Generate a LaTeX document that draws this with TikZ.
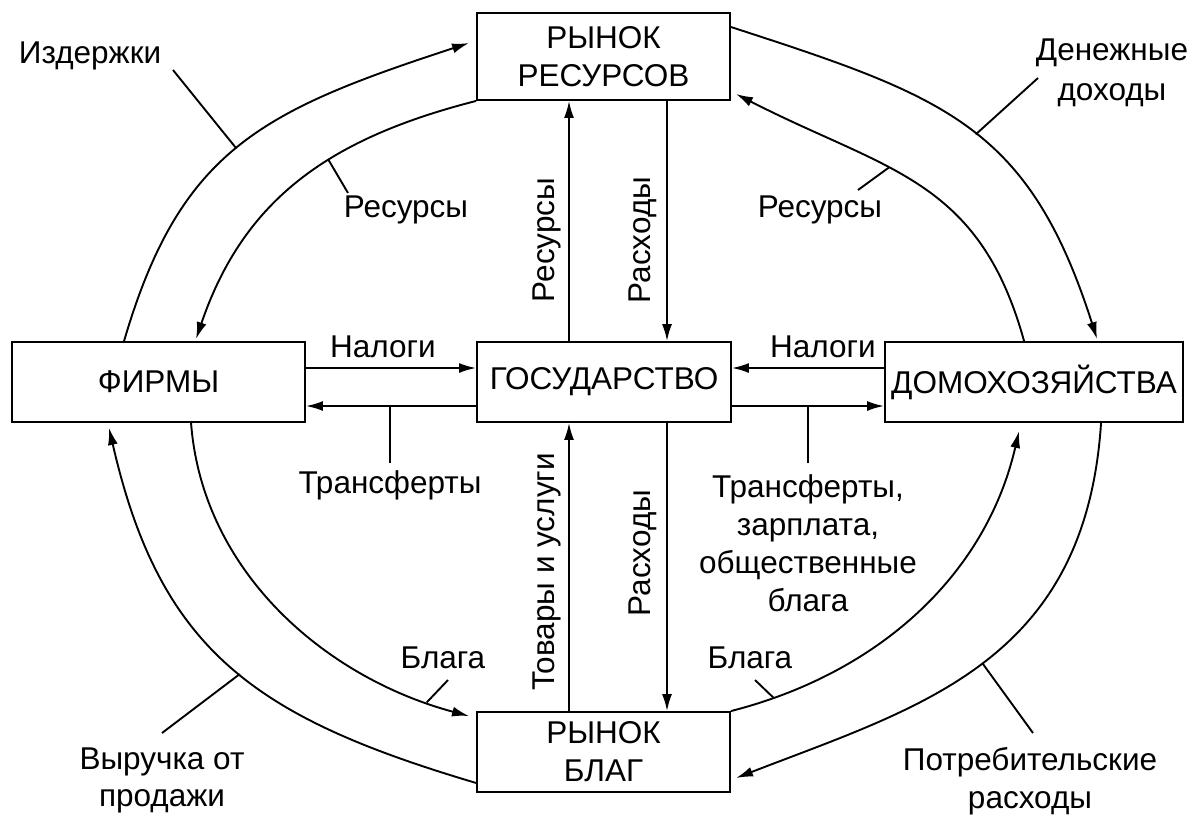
\documentclass[tikz,border=0pt]{standalone}
\usepackage{fontspec}
\setmainfont{Liberation Sans}
\usetikzlibrary{arrows.meta,calc}
\begin{document}
\begin{tikzpicture}[x=1pt,y=-1pt,
  every node/.style={font=\fontsize{31.5}{38}\selectfont, inner sep=0pt},
  box/.style={draw, line width=1.9pt, minimum height=80pt, align=center},
  flow/.style={line width=1.9pt, -{Latex[length=17pt,width=10pt]}},
  lead/.style={line width=1.9pt},
  lbl/.style={align=center}]
\useasboundingbox (0,0) rectangle (1196,815);
\fill[white] (0,0) rectangle (1196,815);

% boxes
\node[box, minimum width=253pt, minimum height=87pt] (rr) at (603.5,56.5) {РЫНОК\\РЕСУРСОВ};
\node[box, minimum width=293pt] (firms) at (158.5,382) {ФИРМЫ};
\node[box, minimum width=254pt] (state) at (604,382) {ГОСУДАРСТВО};
\node[box, minimum width=298pt] (house) at (1034,382) {ДОМОХОЗЯЙСТВА};
\node[box, minimum width=253pt] (rb) at (603.5,752) {РЫНОК\\БЛАГ};

% helper coordinates
\coordinate (vL) at (569,0);
\coordinate (vR) at (667,0);
\coordinate (hT) at (0,368);
\coordinate (hB) at (0,406);

% straight flows
\draw[flow] (state.north -| vL) -- (rr.south -| vL);
\draw[flow] (rr.south -| vR) -- (state.north -| vR);
\draw[flow] (rb.north -| vL) -- (state.south -| vL);
\draw[flow] (state.south -| vR) -- (rb.north -| vR);
\draw[flow] (firms.east |- hT) -- (state.west |- hT);
\draw[flow] (state.west |- hB) -- (firms.east |- hB);
\draw[flow] (house.west |- hT) -- (state.east |- hT);
\draw[flow] (state.east |- hB) -- (house.west |- hB);

% curved flows
\draw[flow] ($(firms.north west)+(113,0)$) .. controls (180,150) and (261,111) .. ($(rr.west)+(-7,-13.5)$) coordinate[pos=0.49] (tIzd);
\draw[flow] (rr.south west) .. controls (331,138) and (244,198) .. ($(firms.north west)+(185,-2)$) coordinate[pos=0.4] (tResL);
\draw[flow] ($(rr.east)+(0,-29.5)$) .. controls (945.75,96.75) and (1029,125.8) .. ($(house.north west)+(213,-2)$) coordinate[pos=0.52] (tDen);
\draw[flow] ($(house.north west)+(140,0)$) .. controls (979,178) and (886,171) .. ($(rr.south east)+(5,-7)$) coordinate[pos=0.6] (tResR);
\draw[flow] ($(rb.south west)+(0,-10)$) .. controls (256,717.6) and (160,651.5) .. ($(firms.south west)+(98,5)$) coordinate[pos=0.47] (tVyr);
\draw[flow] ($(firms.south west)+(180,0)$) .. controls (202.35,571.7) and (325.25,677.55) .. ($(rb.north west)+(-7,5)$) coordinate[pos=0.9] (tBlL);
\draw[flow] (rb.north east) .. controls (877.75,673.55) and (985.65,576.05) .. ($(house.south west)+(135,8)$) coordinate[pos=0.1] (tBlR);
\draw[flow] ($(house.south west)+(217,0)$) .. controls (1085.4,661.5) and (921.6,706.2) .. ($(rb.east)+(5,26)$) coordinate[pos=0.5] (tPot);

% leader end points
\coordinate (eIzd) at (173,70);
\coordinate (eResL) at (348,193);
\coordinate (eDen) at (1038,78);
\coordinate (eResR) at (858,190);
\coordinate (eVyr) at (162,733);
\coordinate (eBlL) at (448,680);
\coordinate (eBlR) at (755,680);
\coordinate (ePot) at (1033,733);
\coordinate (eTrL) at (390,463);
\coordinate (eTrR) at (808,463);

% leaders
\draw[lead] (tIzd) -- (eIzd);
\draw[lead] (tResL) -- (eResL);
\draw[lead] (tDen) -- (eDen);
\draw[lead] (tResR) -- (eResR);
\draw[lead] (tVyr) -- (eVyr);
\draw[lead] (tBlL) -- (eBlL);
\draw[lead] (tBlR) -- (eBlR);
\draw[lead] (tPot) -- (ePot);
\draw[lead] (eTrL |- hB) -- (eTrL);
\draw[lead] (eTrR |- hB) -- (eTrR);

% labels
\node (lIzd) at (90,56) {Издержки};
\node[lbl, font=\fontsize{31.5}{40}\selectfont] (lDen) at (1112,73) {Денежные\\доходы};
\node (lResL) at (406,210) {Ресурсы};
\node (lResR) at (820,210) {Ресурсы};
\node[rotate=90] (lResV) at (547,240) {Ресурсы};
\node[rotate=90] (lRasV1) at (643,240) {Расходы};
\node[rotate=90] (lTov) at (547,572) {Товары и услуги};
\node[rotate=90] (lRasV2) at (643,553) {Расходы};
\node (lNalL) at (383,347) {Налоги};
\node (lNalR) at (823,347) {Налоги};
\node (lTrL) at (390,485) {Трансферты};
\node[lbl] (lTrR) at (808,543) {Трансферты,\\зарплата,\\общественные\\блага};
\node (lBlL) at (443,658) {Блага};
\node (lBlR) at (750,658) {Блага};
\node[lbl, font=\fontsize{31.5}{37}\selectfont] (lVyr) at (162,780) {Выручка от\\продажи};
\node[lbl] (lPot) at (1030,781) {Потребительские\\расходы};
\end{tikzpicture}
\end{document}
